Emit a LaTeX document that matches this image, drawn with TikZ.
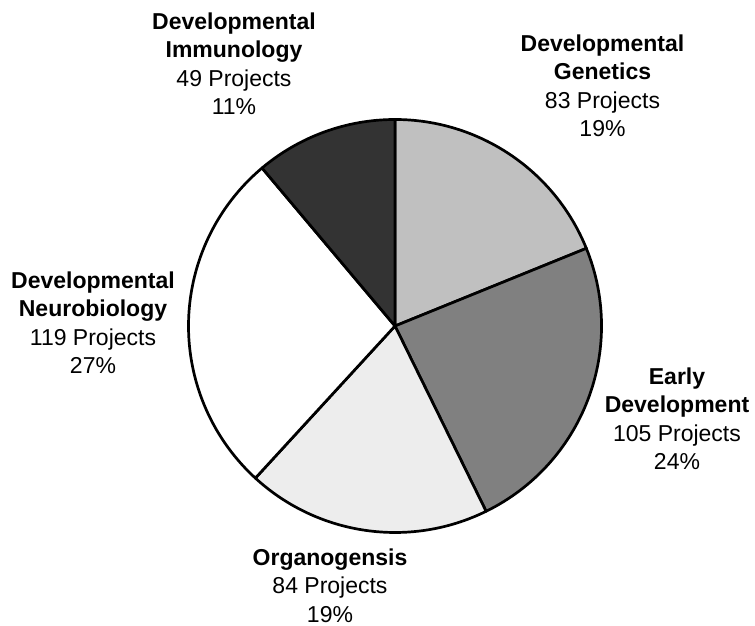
\documentclass[tikz,border=0pt]{standalone}
\usepackage{fontspec}
\setmainfont{Liberation Sans}
\definecolor{cgen}{HTML}{C0C0C0}
\definecolor{cearly}{HTML}{808080}
\definecolor{corg}{HTML}{EDEDED}
\definecolor{cneuro}{HTML}{FFFFFF}
\definecolor{cimm}{HTML}{333333}
\tikzset{
  slice/.style={draw=black, line width=2.7pt, line join=round},
  lbl/.style={align=center, anchor=base, inner sep=0pt, font=\fontsize{23}{28.5}\selectfont},
}
\begin{document}
\begin{tikzpicture}[x=1pt,y=1pt]
\useasboundingbox (0,0) rectangle (755,626);
\coordinate (c) at (395,300);
\def\R{206.5pt}
\filldraw[slice, fill=cgen] (c) -- ++(90:\R) arc[start angle=90, end angle=22.091, radius=\R] -- cycle;
\filldraw[slice, fill=cearly] (c) -- ++(22.091:\R) arc[start angle=22.091, end angle=-63.818, radius=\R] -- cycle;
\filldraw[slice, fill=corg] (c) -- ++(-63.818:\R) arc[start angle=-63.818, end angle=-132.545, radius=\R] -- cycle;
\filldraw[slice, fill=cneuro] (c) -- ++(-132.545:\R) arc[start angle=-132.545, end angle=-229.909, radius=\R] -- cycle;
\filldraw[slice, fill=cimm] (c) -- ++(-229.909:\R) arc[start angle=-229.909, end angle=-270, radius=\R] -- cycle;
\node[lbl] (imm) at (234,511) {\textbf{Developmental}\\\textbf{Immunology}\\49 Projects\\11\%};
\node[lbl] (gen) at (602.5,489) {\textbf{Developmental}\\\textbf{Genetics}\\83 Projects\\19\%};
\node[lbl] (early) at (677,156) {\textbf{Early}\\\textbf{Development}\\105 Projects\\24\%};
\node[lbl] (neuro) at (93,252) {\textbf{Developmental}\\\textbf{Neurobiology}\\119 Projects\\27\%};
\node[lbl] (org) at (330,3.5) {\textbf{Organogensis}\\84 Projects\\19\%};
\end{tikzpicture}
\end{document}
